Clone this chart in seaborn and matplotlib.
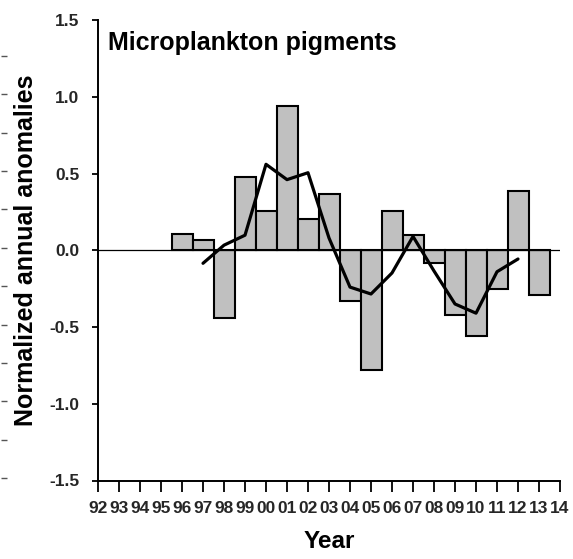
import numpy as np
import pandas as pd
import matplotlib
matplotlib.use("Agg")
import matplotlib.pyplot as plt
import seaborn as sns

# 데이터
years_all = ["92", "93", "94", "95", "96", "97", "98", "99", "00", "01", "02",
             "03", "04", "05", "06", "07", "08", "09", "10", "11", "12", "13", "14"]
bar_years = ["96", "97", "98", "99", "00", "01", "02", "03", "04", "05", "06",
             "07", "08", "09", "10", "11", "12", "13"]
bar_values = [0.104, 0.07, -0.44, 0.474, 0.256, 0.939, 0.202, 0.367, -0.328,
              -0.783, 0.254, 0.098, -0.083, -0.42, -0.556, -0.254, 0.385, -0.294]
line_years = ["97", "98", "99", "00", "01", "02", "03", "04", "05", "06",
              "07", "08", "09", "10", "11", "12"]
line_values = [-0.085, 0.033, 0.098, 0.56, 0.46, 0.505, 0.08, -0.24, -0.285,
               -0.148, 0.09, -0.135, -0.35, -0.41, -0.14, -0.057]
y_ticks = [-1.5, -1.0, -0.5, 0.0, 0.5, 1.0, 1.5]
y_ticklabels = ["-1.5", "-1.0", "-0.5", "0.0", "0.5", "1.0", "1.5"]

sns.set_theme(style="white")
plt.rcParams["font.family"] = ["Liberation Sans", "DejaVu Sans"]
plt.rcParams["font.weight"] = "bold"
plt.rcParams["axes.unicode_minus"] = False

bars = pd.DataFrame({"year": bar_years, "value": bar_values})
line = pd.DataFrame({"pos": [years_all.index(y) for y in line_years],
                     "value": line_values})

fig = plt.figure(figsize=(5.73, 5.59), dpi=100)
ax = fig.add_axes([98 / 573, 1 - 480.5 / 559, 462 / 573, 460.5 / 559])

sns.barplot(data=bars, x="year", y="value", order=years_all, width=1.0,
            color="#C0C0C0", saturation=1, edgecolor="black", linewidth=1.5, ax=ax)
ax.axhline(0, color="black", lw=0.9, zorder=3)
sns.lineplot(data=line, x="pos", y="value", color="black", lw=2.3, ax=ax, zorder=4)

ax.set_xlim(0, 22)
ax.set_ylim(-1.5, 1.5)
ax.set_xticks(range(len(years_all)))
ax.set_xticklabels(years_all, fontsize=12.5, fontweight="bold")
ax.set_yticks(y_ticks)
ax.set_yticklabels(y_ticklabels, fontsize=12.5, fontweight="bold")
ax.tick_params(axis="x", direction="out", length=8, width=1.3, pad=7,
               color="black", bottom=True)
ax.tick_params(axis="y", direction="out", length=4.5, width=1.3, pad=9,
               color="black", left=True)

for s in ["top", "right"]:
    ax.spines[s].set_visible(False)
for s in ["left", "bottom"]:
    ax.spines[s].set_color("black")
    ax.spines[s].set_linewidth(1.4)

ax.set_xlabel("Year", fontsize=17.5, fontweight="bold", color="black")
ax.set_ylabel("Normalized annual anomalies", fontsize=18, fontweight="bold", color="black")
ax.xaxis.set_label_coords(0.5, -0.108)
ax.yaxis.set_label_coords(-0.13, 0.5)

ax.text(0.0216, 0.935, "Microplankton pigments", transform=ax.transAxes,
        fontsize=18, fontweight="bold", va="baseline", ha="left", color="black")

# 왼쪽 가장자리의 잘린 눈금 (옆 패널 흔적)
edge = fig.add_axes([0.001, 1 - 478 / 559, 0.01, 460.5 / 559])
edge.set_ylim(-1.5, 1.5)
edge.set_yticks(np.arange(-1.5, 1.3, 0.25))
edge.set_yticklabels([])
edge.set_xticks([])
edge.tick_params(axis="y", direction="in", length=4, width=1, color="#555555",
                 left=True)
for s in edge.spines.values():
    s.set_visible(False)
edge.patch.set_visible(False)

fig.savefig("out.png", dpi=100)
